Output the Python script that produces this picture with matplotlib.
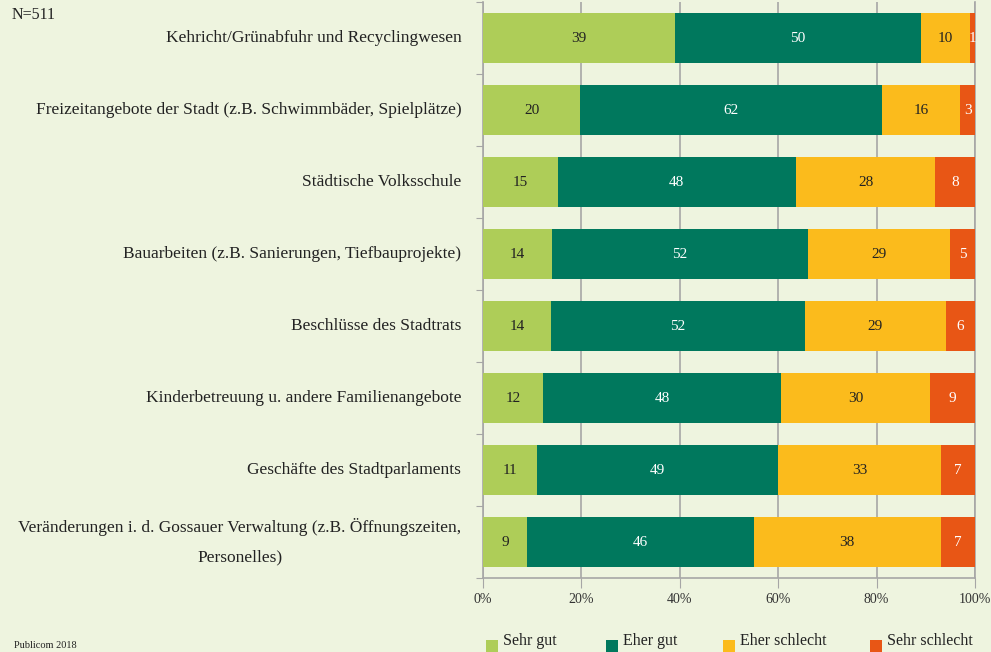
import numpy as np
import matplotlib.pyplot as plt
from matplotlib.patches import Rectangle

# Data
categories = [
    "Kehricht/Grünabfuhr und Recyclingwesen",
    "Freizeitangebote der Stadt (z.B. Schwimmbäder, Spielplätze)",
    "Städtische Volksschule",
    "Bauarbeiten (z.B. Sanierungen, Tiefbauprojekte)",
    "Beschlüsse des Stadtrats",
    "Kinderbetreuung u. andere Familienangebote",
    "Geschäfte des Stadtparlaments",
    "Veränderungen i. d. Gossauer Verwaltung (z.B. Öffnungszeiten,\nPersonelles)",
]
sehr_gut = [39, 20, 15, 14, 14, 12, 11, 9]
eher_gut = [50, 62, 48, 52, 52, 48, 49, 46]
eher_schlecht = [10, 16, 28, 29, 29, 30, 33, 38]
sehr_schlecht = [1, 3, 8, 5, 6, 9, 7, 7]

series_names = ["Sehr gut", "Eher gut", "Eher schlecht", "Sehr schlecht"]
colors = ["#aecd58", "#00785d", "#fbbb1c", "#e85615"]
text_colors = ["#222222", "white", "#222222", "white"]
x_ticks = [0, 20, 40, 60, 80, 100]

bg = "#eef4df"
grid_col = "#a6a6a6"
plt.rcParams['font.family'] = ['Liberation Serif', 'DejaVu Serif']

fig = plt.figure(figsize=(9.91, 6.52), dpi=100, facecolor=bg)
ax = fig.add_axes([483 / 991, 1 - 578 / 652, 492 / 991, 576 / 652])
ax.set_facecolor(bg)
ax.set_axisbelow(True)

data = np.array([sehr_gut, eher_gut, eher_schlecht, sehr_schlecht], dtype=float)
pct = data / data.sum(axis=0) * 100
y = np.arange(len(categories))
left = np.zeros(len(categories))
for i in range(4):
    ax.barh(y, pct[i], left=left, height=0.69, color=colors[i], zorder=3)
    for j in range(len(categories)):
        ax.text(left[j] + pct[i][j] / 2, y[j], str(int(data[i][j])),
                ha='center', va='center', fontsize=11, color=text_colors[i], zorder=4)
    left += pct[i]

ax.set_xlim(0, 100)
ax.set_ylim(len(categories) - 0.5, -0.5)
ax.set_xticks(x_ticks)
ax.set_xticklabels([f"{t}%" for t in x_ticks], fontsize=10, color="#333333")
ax.set_yticks(np.arange(len(categories) + 1) - 0.5)
ax.set_yticklabels([])
ax.tick_params(axis='x', length=7, color=grid_col, pad=4)
ax.tick_params(axis='y', length=5, color=grid_col)
ax.grid(axis='x', color=grid_col, linewidth=1.2, zorder=0)
for s in ax.spines.values():
    s.set_color(grid_col)
    s.set_linewidth(1.2)
ax.spines['top'].set_visible(False)

for j, c in enumerate(categories):
    ax.text(-0.044, 1 - (j + 0.5) / len(categories), c, transform=ax.transAxes,
            ha='right', va='center', fontsize=12.5, color="#222222",
            multialignment='center', linespacing=2.1)

fig.text(12 / 991, 1 - 15 / 652, "N=511", fontsize=11.5, va='center', color="#222222")
fig.text(14 / 991, 1 - 646 / 652, "Publicom 2018", fontsize=7.5, va='center', color="#222222")

# legend, placed by hand along the bottom
legend_x = [486, 606, 723, 870]
for name, col, lx in zip(series_names, colors, legend_x):
    fig.add_artist(Rectangle((lx / 991, 0), 12 / 991, 12 / 652,
                             transform=fig.transFigure, facecolor=col, edgecolor='none'))
    fig.text((lx + 17) / 991, 1 - 641 / 652, name, fontsize=11.5, va='center',
             color="#222222")

fig.savefig("out.png", dpi=100, facecolor=bg)
